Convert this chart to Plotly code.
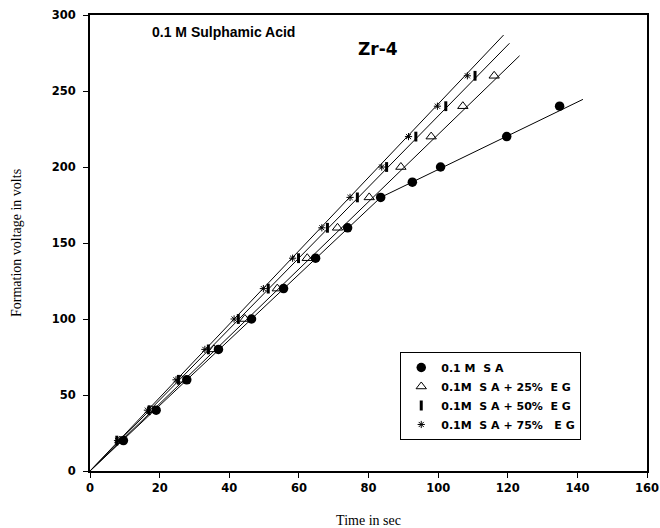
import plotly.graph_objects as go

# ---- data ----
volt = [20, 40, 60, 80, 100, 120, 140, 160, 180, 200, 220, 240, 260]

sa_x = [9.6, 19.0, 27.8, 36.9, 46.4, 55.6, 64.8, 74.0, 83.5, 92.6, 100.7, 119.7, 134.9]
sa_y = [20, 40, 60, 80, 100, 120, 140, 160, 180, 190, 200, 220, 240]

eg25_x = [8.6, 17.7, 26.3, 35.6, 44.5, 53.8, 62.4, 71.1, 80.2, 89.3, 98.0, 107.1, 116.1]
eg50_x = [7.7, 17.0, 25.4, 34.0, 42.6, 51.2, 59.9, 68.2, 76.8, 85.2, 93.6, 102.2, 110.6]
eg75_x = [7.9, 16.5, 24.7, 33.0, 41.4, 49.8, 58.2, 66.6, 74.7, 83.8, 91.5, 99.8, 108.4]

# fitted lines (end points)
fit_sa_x = [0, 83.5, 141.6]
fit_sa_y = [0, 180, 244.5]
fit25_x = [0, 123.4]
fit25_y = [0, 273.2]
fit50_x = [0, 120.5]
fit50_y = [0, 281.4]
fit75_x = [0, 118.8]
fit75_y = [0, 286.8]

x_ticks = [0, 20, 40, 60, 80, 100, 120, 140, 160]
y_ticks = [0, 50, 100, 150, 200, 250, 300]

labels = ["0.1 M  S A", "0.1M  S A + 25%  E G",
          "0.1M  S A + 50%  E G", "0.1M  S A + 75%   E G"]

fig = go.Figure()
line_style = dict(color="black", width=1)
for fx, fy in [(fit_sa_x, fit_sa_y), (fit25_x, fit25_y), (fit50_x, fit50_y), (fit75_x, fit75_y)]:
    fig.add_trace(go.Scatter(x=fx, y=fy, mode="lines", line=line_style,
                             showlegend=False, hoverinfo="skip"))

fig.add_trace(go.Scatter(x=sa_x, y=sa_y, mode="markers", name=labels[0],
                         marker=dict(symbol="circle", size=9.5, color="black")))
fig.add_trace(go.Scatter(x=eg25_x, y=volt, mode="markers", name=labels[1],
                         marker=dict(symbol="triangle-up-open", size=9, color="black",
                                     line=dict(width=1, color="black"))))
fig.add_trace(go.Scatter(x=eg50_x, y=volt, mode="markers", name=labels[2],
                         marker=dict(symbol="line-ns-open", size=7, color="black",
                                     line=dict(width=3, color="black"))))
fig.add_trace(go.Scatter(x=eg75_x, y=volt, mode="markers", name=labels[3],
                         marker=dict(symbol="asterisk-open", size=6, color="black",
                                     line=dict(width=1, color="black"))))

sans_bold = dict(family="DejaVu Sans", size=11.5, color="black", weight="bold")
serif = dict(family="Liberation Serif, Times New Roman", size=14, color="black")
fig.update_layout(
    width=660, height=528,
    margin=dict(l=90, r=13, t=15, b=57),
    paper_bgcolor="white", plot_bgcolor="white",
    showlegend=True,
    legend=dict(x=0.557, y=0.261, xanchor="left", yanchor="top",
                bordercolor="black", borderwidth=1, bgcolor="white",
                font=dict(family="DejaVu Sans", size=11, color="black", weight="bold"),
                tracegroupgap=0, itemwidth=30),
    xaxis=dict(range=[0, 160], tickvals=x_ticks, ticks="outside", ticklen=5,
               tickwidth=1, tickcolor="black", showgrid=False, zeroline=False,
               showline=True, linecolor="black", linewidth=2, mirror=True,
               tickfont=sans_bold, automargin=False,
               title=dict(text="Time in sec", font=serif, standoff=21)),
    yaxis=dict(range=[0, 300], tickvals=y_ticks, ticks="outside", ticklen=5,
               tickwidth=1, tickcolor="black", showgrid=False, zeroline=False,
               showline=True, linecolor="black", linewidth=2, mirror=True,
               tickfont=sans_bold, automargin=False, ticklabelstandoff=5,
               title=dict(text="Formation voltage in volts", font=serif, standoff=27)),
)
fig.add_annotation(text="0.1 M Sulphamic Acid", xref="x", yref="y", x=17.2, y=288.8,
                   xanchor="left", yanchor="middle", showarrow=False,
                   font=dict(family="Liberation Sans, Arial", size=14, color="black", weight="bold"))
fig.add_annotation(text="Zr-4", xref="x", yref="y", x=76.4, y=277.6,
                   xanchor="left", yanchor="middle", showarrow=False,
                   font=dict(family="DejaVu Sans", size=17, color="black", weight="bold"))

fig.write_html("out.html", config={"displayModeBar": False},
               post_script="document.body.style.margin='0px';")
